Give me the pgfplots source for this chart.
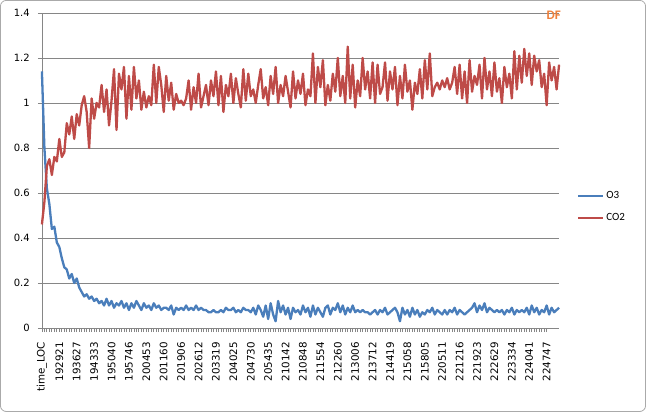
\documentclass[border=0pt]{standalone}
\usepackage{pgfplots}
\pgfplotsset{compat=1.18}
\usepackage{pgfplotstable}
\usepackage{fontspec}
\setmainfont{Carlito}
\newfontfamily\tickfont{DejaVu Sans}
\definecolor{oblue}{HTML}{4A7EBB}
\definecolor{cred}{HTML}{BE4B48}
\definecolor{gridg}{HTML}{868686}
\definecolor{dforange}{HTML}{EE7F3A}
\pgfplotstableread{
idx o3 co2
0 1.14 0.46
1 0.80 0.56
2 0.62 0.72
3 0.55 0.75
4 0.44 0.68
5 0.45 0.76
6 0.38 0.74
7 0.36 0.84
8 0.31 0.76
9 0.27 0.78
10 0.26 0.91
11 0.22 0.86
12 0.24 0.94
13 0.20 0.84
14 0.22 0.95
15 0.18 0.90
16 0.16 0.99
17 0.14 1.03
18 0.15 0.96
19 0.13 0.80
20 0.14 1.02
21 0.12 0.93
22 0.13 1.00
23 0.11 0.98
24 0.12 1.08
25 0.10 0.96
26 0.13 1.06
27 0.10 0.90
28 0.12 1.01
29 0.09 1.15
30 0.11 0.88
31 0.10 1.13
32 0.12 1.06
33 0.09 1.16
34 0.11 0.93
35 0.08 1.12
36 0.11 0.97
37 0.09 1.16
38 0.12 1.02
39 0.10 1.10
40 0.08 0.97
41 0.11 1.05
42 0.09 0.98
43 0.10 1.03
44 0.08 0.99
45 0.11 1.17
46 0.09 1.00
47 0.10 1.16
48 0.08 1.08
49 0.09 0.96
50 0.09 1.12
51 0.08 1.01
52 0.10 1.09
53 0.06 0.97
54 0.09 1.04
55 0.08 1.00
56 0.09 1.01
57 0.08 0.99
58 0.10 1.02
59 0.08 1.10
60 0.09 0.97
61 0.08 1.07
62 0.10 1.00
63 0.08 1.13
64 0.09 0.98
65 0.08 1.03
66 0.08 1.08
67 0.07 0.99
68 0.07 1.10
69 0.08 1.03
70 0.07 1.14
71 0.07 0.99
72 0.08 1.12
73 0.07 0.96
74 0.09 1.08
75 0.08 1.03
76 0.08 1.13
77 0.09 1.00
78 0.07 1.11
79 0.08 1.04
80 0.07 0.98
81 0.09 1.15
82 0.08 1.01
83 0.08 1.13
84 0.07 1.03
85 0.09 1.06
86 0.06 1.00
87 0.10 1.08
88 0.08 1.15
89 0.05 1.02
90 0.10 1.07
91 0.04 0.99
92 0.11 1.12
93 0.06 1.04
94 0.03 1.16
95 0.12 1.00
96 0.07 1.08
97 0.10 1.03
98 0.06 1.12
99 0.09 1.05
100 0.04 0.98
101 0.09 1.14
102 0.07 1.02
103 0.08 1.10
104 0.06 1.04
105 0.10 1.13
106 0.07 0.99
107 0.09 1.06
108 0.05 1.03
109 0.10 1.22
110 0.06 1.00
111 0.09 1.16
112 0.07 1.07
113 0.05 1.19
114 0.09 0.99
115 0.10 1.08
116 0.06 1.01
117 0.09 1.13
118 0.08 1.05
119 0.11 1.20
120 0.07 1.03
121 0.10 1.12
122 0.06 1.00
123 0.09 1.25
124 0.07 1.02
125 0.10 1.17
126 0.07 0.98
127 0.08 1.10
128 0.07 1.03
129 0.08 1.20
130 0.07 1.06
131 0.07 1.14
132 0.06 1.02
133 0.07 1.18
134 0.08 1.00
135 0.06 1.17
136 0.08 1.04
137 0.07 1.07
138 0.09 1.18
139 0.06 1.01
140 0.07 1.14
141 0.08 1.06
142 0.09 1.16
143 0.07 0.99
144 0.03 1.12
145 0.09 1.02
146 0.06 1.17
147 0.08 1.05
148 0.05 1.10
149 0.09 0.97
150 0.06 1.09
151 0.08 1.04
152 0.05 1.15
153 0.07 1.02
154 0.06 1.19
155 0.08 1.06
156 0.07 1.22
157 0.09 1.03
158 0.06 1.07
159 0.08 1.09
160 0.07 1.06
161 0.06 1.10
162 0.08 1.07
163 0.06 1.11
164 0.08 1.06
165 0.07 1.09
166 0.09 1.16
167 0.06 1.04
168 0.08 1.17
169 0.07 1.02
170 0.06 1.14
171 0.07 1.00
172 0.08 1.19
173 0.09 1.05
174 0.11 1.12
175 0.07 1.08
176 0.10 1.17
177 0.08 1.02
178 0.11 1.20
179 0.07 1.06
180 0.09 1.14
181 0.08 1.03
182 0.07 1.18
183 0.08 1.05
184 0.07 1.11
185 0.08 1.00
186 0.06 1.16
187 0.08 1.07
188 0.07 1.13
189 0.09 1.02
190 0.06 1.23
191 0.08 1.06
192 0.07 1.21
193 0.08 1.09
194 0.07 1.24
195 0.09 1.12
196 0.06 1.22
197 0.10 1.08
198 0.07 1.21
199 0.09 1.14
200 0.06 1.19
201 0.08 1.07
202 0.07 1.13
203 0.10 0.99
204 0.06 1.18
205 0.09 1.10
206 0.07 1.16
207 0.08 1.06
208 0.09 1.17
}\datatable
\begin{document}
\begin{tikzpicture}
\draw[color=gridg!70, line width=0.8bp, rounded corners=6bp] (0.5bp,-0.5bp) rectangle (645.5bp,-411.5bp);
\begin{axis}[
  at={(42bp,-328bp)}, anchor=origin,
  scale only axis, width=517bp, height=315bp,
  xmin=0, xmax=208, ymin=0, ymax=1.4,
  axis x line*=bottom, axis y line*=left,
  axis line style={gridg, line width=0.8bp, -},
  ytick={0,0.2,...,1.4},
  ymajorgrids, grid style={gridg, line width=0.8bp},
  xtick={0,7,...,203},
  xticklabels={time\_LOC,192921,193627,194333,195040,195746,200453,201160,201906,202612,203319,204025,204730,205435,210142,210848,211554,212260,213006,213712,214419,215058,215805,220511,221216,221923,222629,223334,224041,224747},
  minor x tick num=6,
  tick align=outside,
  major tick length=4bp, minor tick length=4bp,
  tick style={gridg, line width=0.8bp},
  xticklabel style={rotate=90, anchor=east, font=\tickfont\fontsize{10.3bp}{12bp}\selectfont, inner sep=1bp},
  xticklabel shift=9bp,
  yticklabel style={font=\tickfont\fontsize{10bp}{12bp}\selectfont, inner sep=1bp},
  yticklabel shift=7bp,
  /pgf/number format/assume math mode=true,
  clip=false,
  legend style={at={(1.035,0.385)}, anchor=west, draw=none, fill=none,
    font=\fontsize{11bp}{12bp}\selectfont, row sep=9bp, inner sep=0pt},
  legend cell align=left,
  legend image code/.code={\draw[#1, line width=2bp] (0bp,0bp) -- (25bp,0bp);},
]
\addplot[oblue, line width=2.3bp, line join=round] table[x=idx, y=o3] {\datatable};
\addlegendentry{O3}
\addplot[cred, line width=2.3bp, line join=round] table[x=idx, y=co2] {\datatable};
\addlegendentry{CO2}
\end{axis}
\node[anchor=north east, text=dforange, font=\bfseries\fontsize{13bp}{14bp}\selectfont, inner sep=0pt] at (561bp,-11bp) {DF};
\end{tikzpicture}
\end{document}
